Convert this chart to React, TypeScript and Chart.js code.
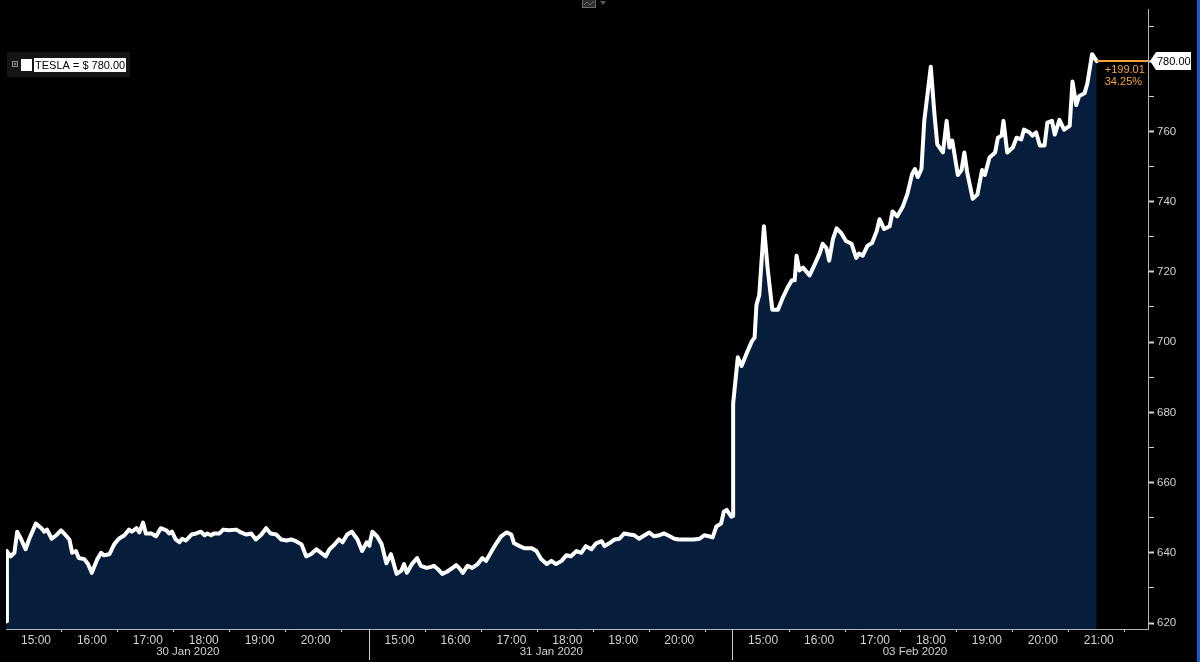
import React, { useEffect, useRef } from 'react';
import { Chart, registerables } from 'chart.js';

Chart.register(...registerables);

// ---------- data ----------
const sessionMinutes = 390; // 14:30 -> 21:00
const xAxisMax = 1225;
const yAxisMin = 618.3;
const yAxisMax = 794.6;

const dayLabels = ['30 Jan 2020', '31 Jan 2020', '03 Feb 2020'];
const hourLabels = ['15:00', '16:00', '17:00', '18:00', '19:00', '20:00', '21:00'];
const yTickValues = [620, 630, 640, 650, 660, 670, 680, 690, 700, 710, 720, 730, 740, 750, 760, 770, 780, 790];

const legendText = 'TESLA = $ 780.00';
const lastPrice = 780.0;
const lastPriceText = '780.00';
const netChangeText = '+199.01';
const pctChangeText = '34.25%';

// minutes since 14:30 in each session
const day1Minutes = [0, 1, 5, 9, 12, 16, 21, 25, 32, 38, 41, 44, 49, 54, 59, 64, 68, 71, 75, 78, 84, 88, 92, 98, 102, 105, 111, 116, 121, 127, 132, 135, 140, 143, 147, 150, 156, 161, 166, 172, 175, 178, 182, 186, 189, 193, 199, 204, 209, 213, 216, 220, 223, 229, 233, 239, 247, 252, 258, 263, 268, 274, 279, 284, 290, 295, 301, 306, 311, 317, 322, 327, 333, 338, 343, 347, 352, 357, 361, 366, 371, 377, 382, 387, 390];
const day1Prices = [620.5, 640.5, 639, 640, 646, 644, 641, 644, 648.3, 647, 646, 646.6, 644, 645, 646.4, 645, 643.8, 640, 640.5, 638.5, 638.2, 636.8, 634.3, 638.2, 640, 639.3, 639.6, 642.4, 644, 645, 646.6, 646, 647, 645.8, 648.6, 645.5, 645.5, 644.7, 647, 646.4, 645.5, 646, 643.8, 643, 644, 643.5, 645.2, 645.5, 646, 645, 645.5, 645, 645.5, 645.5, 646.6, 646.4, 646.6, 645.8, 645.2, 645.5, 643.8, 645.2, 647, 645.5, 645.2, 643.8, 643.5, 643.8, 643.3, 642.4, 639, 639.6, 641, 640, 639, 641, 642.2, 643.8, 643, 645.2, 646, 643.8, 640.5, 643, 642];

const day2Minutes = [0, 3, 8, 13, 18, 23, 29, 34, 37, 40, 46, 51, 55, 61, 66, 69, 73, 78, 83, 89, 93, 96, 100, 105, 110, 116, 121, 125, 131, 136, 141, 147, 152, 155, 161, 166, 174, 179, 184, 190, 195, 200, 206, 211, 216, 222, 227, 232, 238, 243, 249, 252, 257, 263, 268, 273, 279, 284, 289, 295, 300, 305, 311, 316, 322, 327, 332, 338, 343, 348, 354, 359, 364, 368, 372, 377, 380, 383, 388, 390];
const day2Prices = [642.5, 646, 644.7, 642.4, 637, 639.6, 634, 634.9, 636.8, 634.3, 637, 638.5, 636.3, 635.7, 636, 636.3, 635.4, 634, 634.6, 635.7, 636.5, 635.7, 634.3, 636.3, 635.7, 636.8, 638.5, 637.7, 640.5, 642.7, 644.7, 645.8, 645.2, 642.7, 641.9, 641.3, 641.3, 640.5, 638.2, 636.8, 637.7, 636.8, 637.7, 639.3, 639, 640.5, 640, 641.9, 641, 642.7, 643.3, 641.9, 642.7, 643.8, 644, 645.5, 645.2, 645, 644, 645, 645.8, 644.7, 645, 645.5, 644.7, 644, 643.8, 643.8, 643.8, 643.8, 644, 645, 644.7, 644.4, 647.5, 648.3, 651.7, 652.2, 650.3, 650.5];

const day3Minutes = [0, 5, 9, 14, 20, 23, 25, 28, 33, 37, 42, 48, 53, 58, 63, 66, 68, 71, 75, 82, 88, 93, 96, 100, 103, 107, 111, 116, 121, 127, 132, 135, 139, 144, 149, 154, 157, 162, 168, 171, 176, 182, 187, 192, 195, 198, 202, 205, 212, 216, 219, 225, 229, 232, 235, 241, 245, 248, 251, 257, 262, 267, 270, 275, 281, 284, 288, 290, 294, 300, 304, 309, 312, 318, 321, 325, 329, 334, 337, 342, 345, 350, 355, 361, 364, 368, 371, 377, 380, 385, 390];
const day3Prices = [682.5, 695.7, 693.2, 696.5, 700.2, 701.3, 710.6, 713.4, 733, 721, 709.2, 709.2, 712.5, 715.3, 717.6, 717.6, 724.6, 720.4, 721.2, 719, 722.4, 725.4, 728, 726.8, 723.2, 729.3, 732.4, 731, 728.8, 728, 724, 725.2, 724.6, 727.4, 728.2, 731.6, 735, 732.2, 733, 737.2, 735.8, 738.6, 742.3, 747.9, 749.3, 747, 749.3, 763, 778.4, 764.7, 756.3, 754, 763, 755.4, 757.4, 747.6, 749, 754, 748.4, 740.8, 742, 749, 747.6, 752.6, 754, 758.2, 758.8, 763, 754, 755.4, 758.2, 757.7, 760.5, 759.7, 758.8, 759.7, 756, 756, 762.5, 763, 759.1, 763.3, 760.5, 761.6, 774.2, 767.5, 770, 770.9, 773.7, 782, 780];

// ---------- derived ----------
const sessions = [
  { minutes: day1Minutes, prices: day1Prices },
  { minutes: day2Minutes, prices: day2Prices },
  { minutes: day3Minutes, prices: day3Prices },
];

const points = sessions.flatMap((s, d) =>
  s.minutes.map((m, i) => ({ x: d * sessionMinutes + m, y: s.prices[i] }))
);

// x ticks: full hours (labelled) and half hours (tick marks only)
const xTickLabels = new Map<number, string>();
const xTickValues: number[] = [];
dayLabels.forEach((_, d) => {
  const last = d === dayLabels.length - 1 ? 7 : 6;
  for (let k = 0; k < last; k++) {
    const hv = d * sessionMinutes + 30 + 60 * k;
    xTickValues.push(hv);
    xTickLabels.set(hv, hourLabels[k]);
    const hh = hv + 30;
    if (hh < (d + 1) * sessionMinutes || (d === dayLabels.length - 1 && hh < xAxisMax)) {
      xTickValues.push(hh);
    }
  }
});

const FONT = '"Liberation Sans", Arial, sans-serif';
const TEXT_COLOR = '#d2d2d2';

const overlayPlugin = {
  id: 'bbgOverlay',
  afterDraw(chart: any) {
    const { ctx, chartArea, scales } = chart;
    const xs = scales.x;
    const ys = scales.y;
    ctx.save();

    // day separators
    ctx.strokeStyle = '#cfcfcf';
    ctx.lineWidth = 1;
    for (let d = 1; d < dayLabels.length; d++) {
      const px = Math.round(xs.getPixelForValue(d * sessionMinutes)) - 0.5;
      ctx.beginPath();
      ctx.moveTo(px, chartArea.bottom);
      ctx.lineTo(px, 660);
      ctx.stroke();
    }

    // date labels
    ctx.fillStyle = TEXT_COLOR;
    ctx.font = `11.5px ${FONT}`;
    ctx.textAlign = 'center';
    ctx.textBaseline = 'middle';
    dayLabels.forEach((lbl, d) => {
      ctx.fillText(lbl, xs.getPixelForValue(d * sessionMinutes + sessionMinutes / 2), 652);
    });

    // last value annotation
    const lastX = xs.getPixelForValue(points[points.length - 1].x);
    const yPix = Math.round(ys.getPixelForValue(lastPrice));
    ctx.strokeStyle = '#f2a33a';
    ctx.lineWidth = 2;
    ctx.beginPath();
    ctx.moveTo(lastX, yPix);
    ctx.lineTo(chartArea.right, yPix);
    ctx.stroke();
    ctx.fillStyle = '#f2a33a';
    ctx.font = `11px ${FONT}`;
    ctx.textAlign = 'left';
    ctx.fillText(netChangeText, lastX + 8, yPix + 9);
    ctx.fillText(pctChangeText, lastX + 8, yPix + 21);

    // price box on the axis
    const r = chartArea.right;
    ctx.fillStyle = '#ffffff';
    ctx.beginPath();
    ctx.moveTo(r + 2, yPix);
    ctx.lineTo(r + 8, yPix - 9);
    ctx.lineTo(r + 43, yPix - 9);
    ctx.lineTo(r + 43, yPix + 9);
    ctx.lineTo(r + 8, yPix + 9);
    ctx.closePath();
    ctx.fill();
    ctx.fillStyle = '#000000';
    ctx.font = `11px ${FONT}`;
    ctx.fillText(lastPriceText, r + 9, yPix + 1);

    // legend
    ctx.fillStyle = '#151515';
    ctx.fillRect(7, 52, 123, 25);
    ctx.strokeStyle = '#8a8a8a';
    ctx.lineWidth = 1;
    ctx.strokeRect(12.5, 61.5, 5, 5);
    ctx.beginPath();
    ctx.moveTo(13.5, 64);
    ctx.lineTo(16.5, 64);
    ctx.moveTo(15, 62.5);
    ctx.lineTo(15, 65.5);
    ctx.stroke();
    ctx.fillStyle = '#ffffff';
    ctx.fillRect(21, 59, 11, 12);
    ctx.fillRect(34, 58, 92, 14);
    ctx.fillStyle = '#000000';
    ctx.font = `11px ${FONT}`;
    ctx.textAlign = 'left';
    ctx.fillText(legendText, 35, 65.5);

    // top chart-type icon
    ctx.fillStyle = '#2b2b2b';
    ctx.fillRect(582, 0, 14, 8);
    ctx.strokeStyle = '#6a6a6a';
    ctx.strokeRect(582.5, -1.5, 13, 9);
    ctx.beginPath();
    ctx.moveTo(584, 5);
    ctx.lineTo(587, 2);
    ctx.lineTo(590, 5);
    ctx.lineTo(594, 1);
    ctx.stroke();
    ctx.fillStyle = '#5a5a5a';
    ctx.beginPath();
    ctx.moveTo(600, 1);
    ctx.lineTo(606, 1);
    ctx.lineTo(603, 5);
    ctx.closePath();
    ctx.fill();

    // blue window edge
    ctx.fillStyle = '#1d5cc6';
    ctx.fillRect(1197, 0, 3, 662);

    ctx.restore();
  },
};

export default function App() {
  const canvasRef = useRef<HTMLCanvasElement | null>(null);

  useEffect(() => {
    const canvas = canvasRef.current;
    if (!canvas) return;
    const chart = new Chart(canvas, {
      type: 'line',
      data: {
        datasets: [
          {
            label: 'TESLA',
            data: points,
            borderColor: '#ffffff',
            borderWidth: 4,
            borderJoinStyle: 'round',
            borderCapStyle: 'round',
            backgroundColor: '#061e3c',
            fill: 'start',
            pointRadius: 0,
            tension: 0,
          },
        ],
      },
      options: {
        responsive: false,
        animation: false,
        devicePixelRatio: 1,
        layout: { padding: { left: 6, top: 0, right: 0, bottom: 0 } },
        plugins: {
          legend: { display: false },
          tooltip: { enabled: false },
        },
        scales: {
          x: {
            type: 'linear',
            min: 0,
            max: xAxisMax,
            afterBuildTicks: (scale: any) => {
              scale.ticks = xTickValues.map((v) => ({ value: v }));
            },
            afterFit: (scale: any) => {
              scale.height = 33;
            },
            ticks: {
              autoSkip: false,
              maxRotation: 0,
              minRotation: 0,
              padding: 1,
              labelOffset: 2,
              color: TEXT_COLOR,
              font: { family: FONT, size: 12 },
              callback: (value: any) => xTickLabels.get(Number(value)) ?? '',
            },
            grid: {
              drawOnChartArea: false,
              drawTicks: true,
              tickLength: 3,
              color: (ctx: any) =>
                ctx.tick && xTickLabels.has(ctx.tick.value) ? 'rgba(0,0,0,0)' : '#c8c8c8',
            },
            border: { display: true, color: '#b4b4b4', width: 1 },
          },
          y: {
            type: 'linear',
            position: 'right',
            min: yAxisMin,
            max: yAxisMax,
            afterBuildTicks: (scale: any) => {
              scale.ticks = yTickValues.map((v) => ({ value: v }));
            },
            afterFit: (scale: any) => {
              scale.width = 52;
            },
            ticks: {
              padding: 3,
              color: TEXT_COLOR,
              font: { family: FONT, size: 11.5 },
              callback: (value: any) => (Number(value) % 20 === 0 ? String(value) : ''),
            },
            grid: {
              drawOnChartArea: false,
              drawTicks: true,
              tickLength: 6,
              tickWidth: (ctx: any) => (ctx.tick && ctx.tick.value % 20 === 0 ? 2 : 1),
              color: '#d0d0d0',
            },
            border: { display: true, color: '#b4b4b4', width: 1 },
          },
        },
      },
      plugins: [overlayPlugin],
    });
    return () => chart.destroy();
  }, []);

  return (
    <div
      style={{
        position: 'fixed',
        left: 0,
        top: 0,
        width: 1200,
        height: 662,
        background: '#000000',
        overflow: 'hidden',
      }}
    >
      <canvas ref={canvasRef} width={1200} height={662} style={{ display: 'block' }} />
    </div>
  );
}
